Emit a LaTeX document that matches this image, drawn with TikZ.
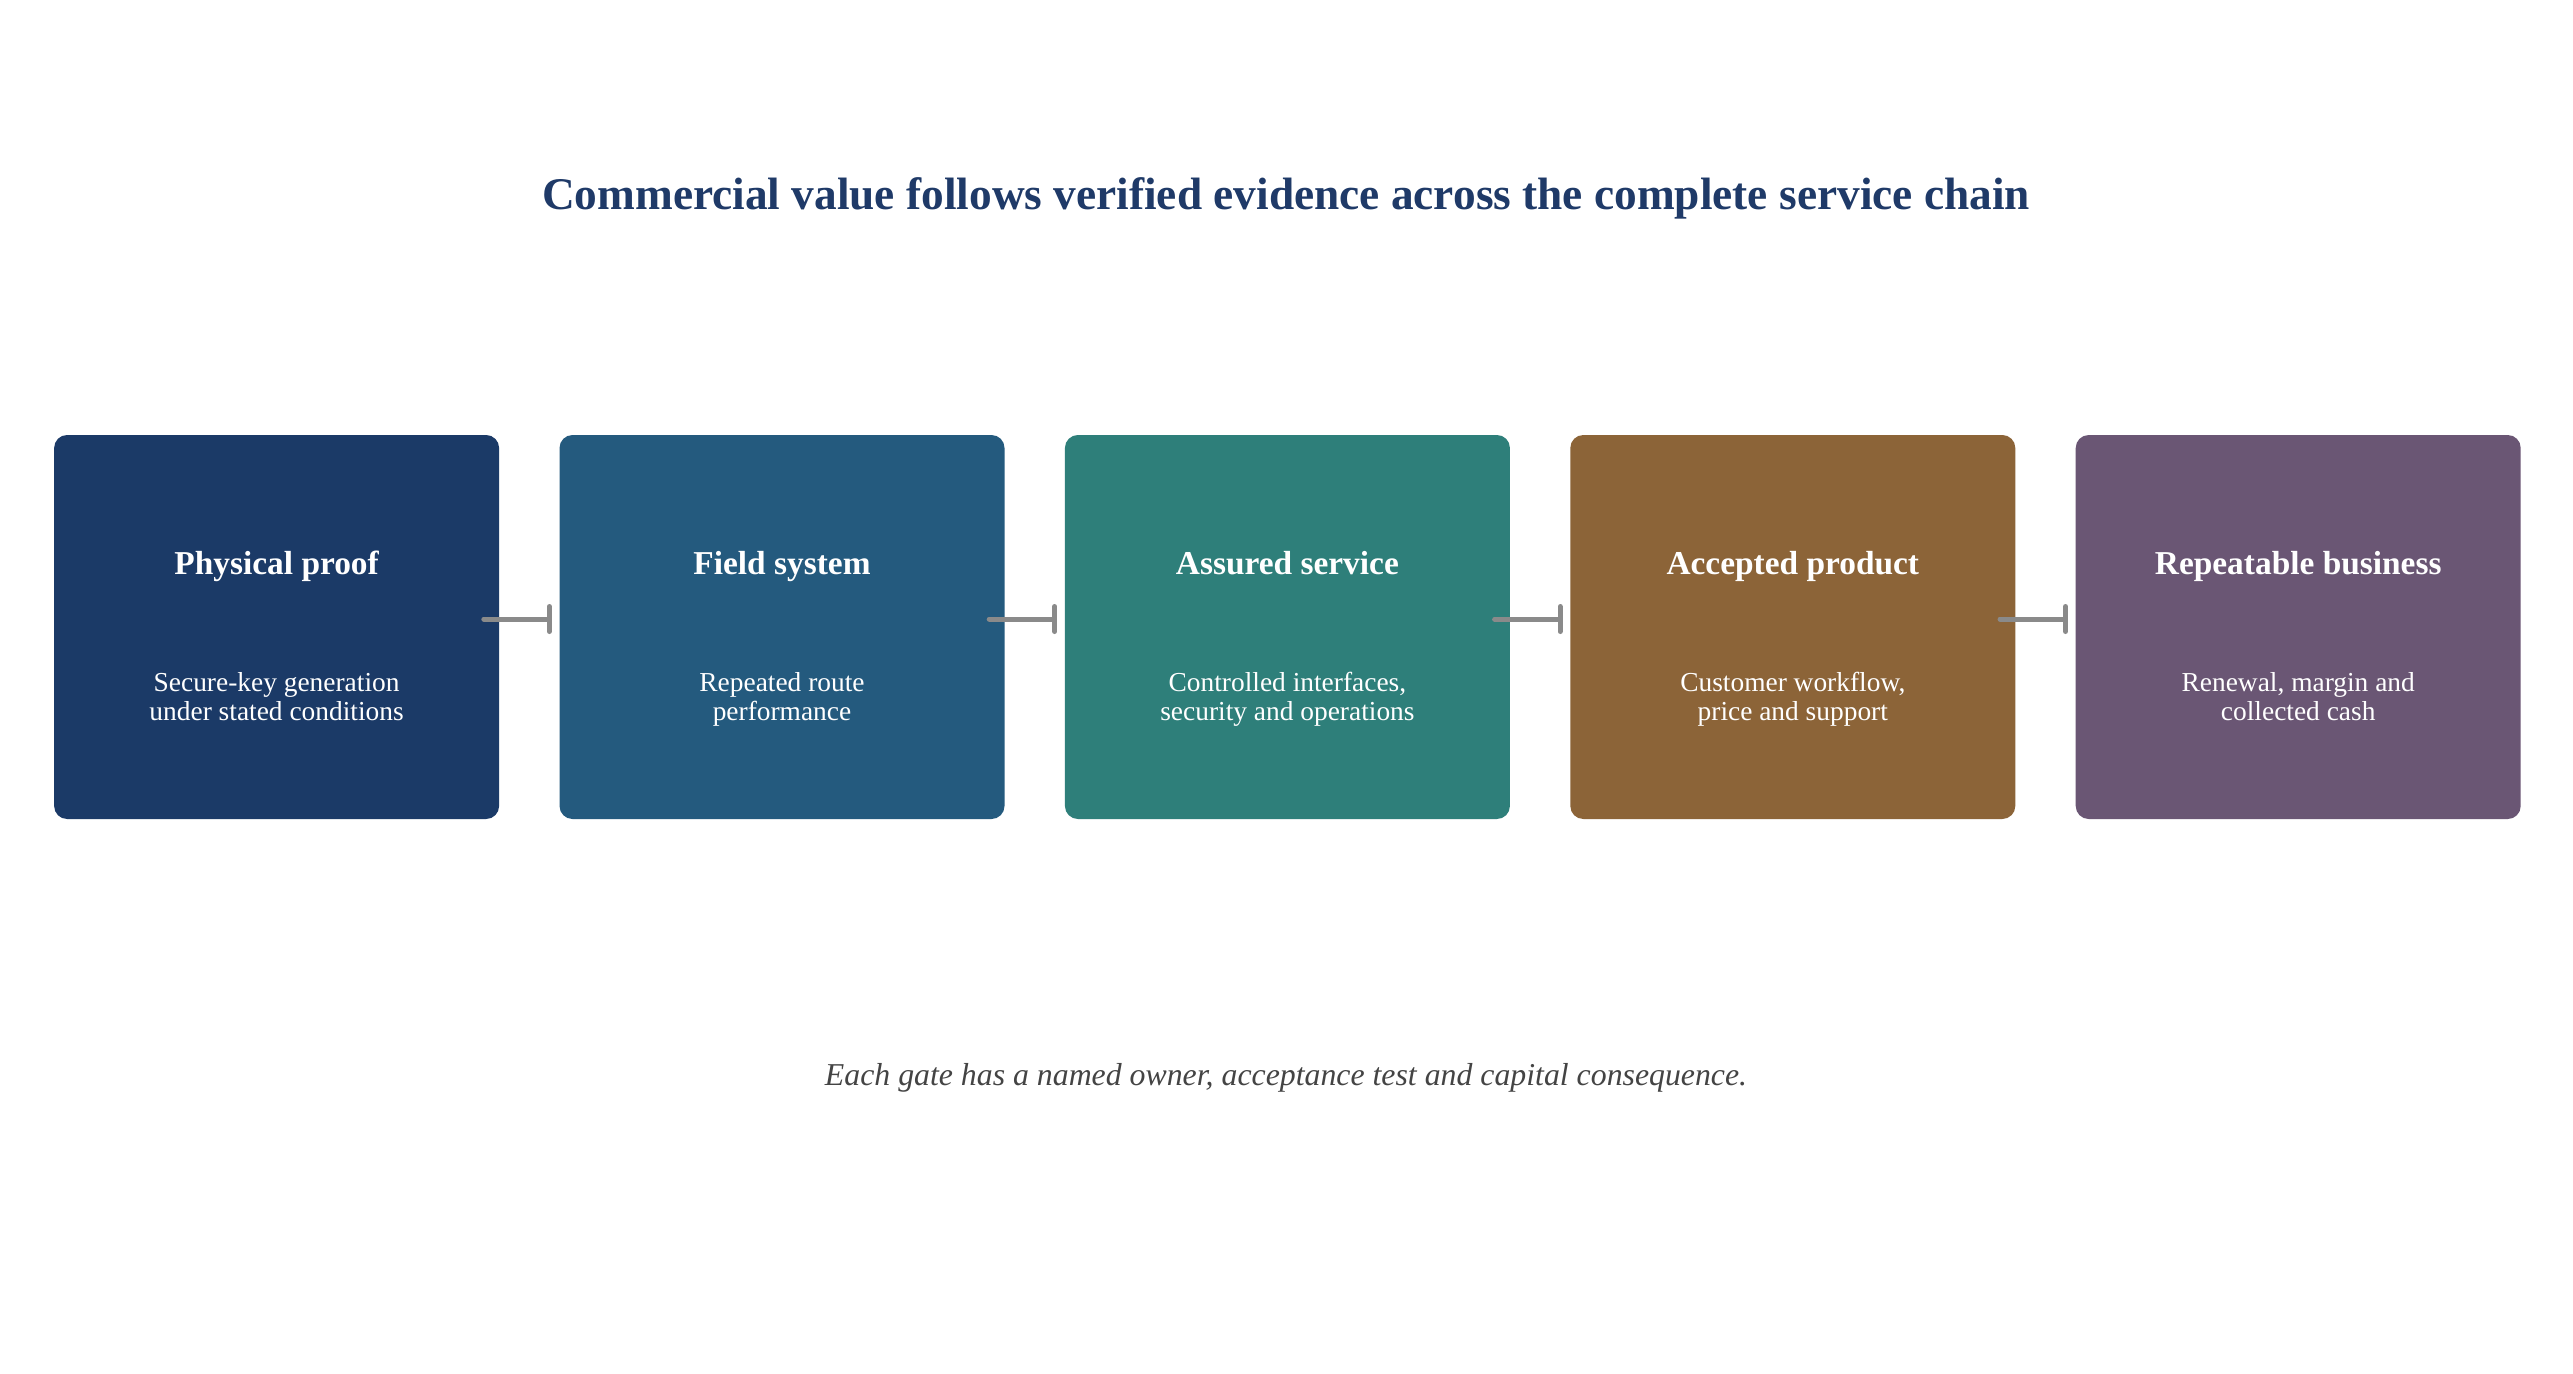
\documentclass[tikz,border=0pt]{standalone}
\usepackage{fontspec}
\setmainfont{Liberation Serif}
\usetikzlibrary{arrows.meta}
\definecolor{titlecol}{HTML}{1F3A68}
\definecolor{cA}{HTML}{1B3A67}
\definecolor{cB}{HTML}{245A7E}
\definecolor{cC}{HTML}{2E7F7A}
\definecolor{cD}{HTML}{8C6438}
\definecolor{cE}{HTML}{6A5674}
\definecolor{linkgray}{HTML}{8A8A8A}
\definecolor{notegray}{HTML}{444444}
\tikzset{
  stage/.style={rounded corners=0.13cm, minimum width=4.45cm, minimum height=3.84cm, inner sep=0pt, draw=none},
  stagetitle/.style={text=white, font=\fontsize{9.5}{11}\selectfont\bfseries, align=center, anchor=base, inner sep=0pt},
  stagebody/.style={text=white, font=\fontsize{7.8}{8.0}\selectfont, align=center, anchor=base, inner sep=0pt},
  link/.style={draw=linkgray, line width=0.05cm, line cap=round, -{Bar[width=0.25cm, line width=0.05cm, line cap=round]}},
}
\begin{document}
\begin{tikzpicture}
\useasboundingbox[fill=white] (0,0) rectangle (25.73,13.73);
\node[text=titlecol, font=\fontsize{12.9}{15}\selectfont\bfseries, anchor=base, inner sep=0pt] (title) at (12.86,11.63) {Commercial value follows verified evidence across the complete service chain};

\node[stage, fill=cA] (s1) at (2.766,7.46) {};
\node[stage, fill=cB] (s2) at (7.820,7.46) {};
\node[stage, fill=cC] (s3) at (12.874,7.46) {};
\node[stage, fill=cD] (s4) at (17.928,7.46) {};
\node[stage, fill=cE] (s5) at (22.982,7.46) {};

\foreach \i/\t/\b in {1/Physical proof/{Secure-key generation\\under stated conditions},
                      2/Field system/{Repeated route\\performance},
                      3/Assured service/{Controlled interfaces,\\security and operations},
                      4/Accepted product/{Customer workflow,\\price and support},
                      5/Repeatable business/{Renewal, margin and\\collected cash}}{
  \node[stagetitle] (t\i) at ([yshift=0.53cm]s\i.center) {\t};
  \node[stagebody] (b\i) at ([yshift=-0.93cm]s\i.center) {\b};
}

\foreach \a/\b in {1/2,2/3,3/4,4/5}{
  \draw[link] ([xshift=-0.16cm,yshift=0.08cm]s\a.east) -- ([xshift=-0.07cm,yshift=0.08cm]s\b.west);
}

\node[text=notegray, font=\fontsize{9.05}{11}\selectfont\itshape] (note) at (12.86,2.95) {Each gate has a named owner, acceptance test and capital consequence.};
\end{tikzpicture}
\end{document}
